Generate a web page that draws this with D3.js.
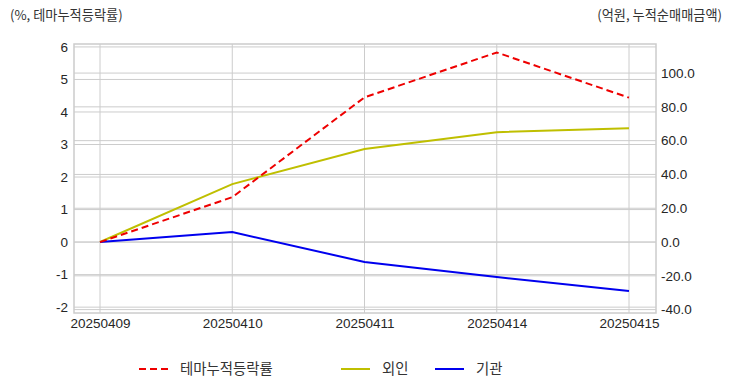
<!DOCTYPE html>
<html>
<head>
<meta charset="utf-8">
<script src="https://cdn.jsdelivr.net/npm/d3@7"></script>
<style>
  body { margin: 0; background: #fff; }
  text { font-family: "Liberation Sans", Arial, sans-serif; }
  .kr { font-family: "Noto Sans CJK KR", sans-serif; }
</style>
</head>
<body>
<svg id="chart" width="732" height="392"></svg>
<script>
// data
const dates = ["20250409", "20250410", "20250411", "20250414", "20250415"];
const theme = [0, 1.38, 4.45, 5.83, 4.44];      // %, left axis
const foreign = [0, 34.3, 55.0, 65.0, 67.3];    // 억원, right axis
const inst = [0, 5.9, -11.8, -20.7, -29.0];     // 억원, right axis
const leftTicks = [-2, -1, 0, 1, 2, 3, 4, 5, 6];
const rightTicks = [-40, -20, 0, 20, 40, 60, 80, 100];

const svg = d3.select("#chart");
const plotLeft = 74, plotRight = 656, plotTop = 44, plotBottom = 313;

const x = d3.scalePoint()
    .domain(dates)
    .range([100, 629]);

const yL = d3.scaleLinear()
    .domain([-2.18, 6.09])
    .range([plotBottom, plotTop]);

const yR = d3.scaleLinear()
    .domain([-42, 117.2])
    .range([plotBottom, plotTop]);

const grid = "#cccccc";

// grid lines
svg.append("g")
    .selectAll("line")
    .data(leftTicks)
    .enter()
    .append("line")
    .attr("x1", plotLeft).attr("x2", plotRight)
    .attr("y1", d => yL(d)).attr("y2", d => yL(d))
    .style("stroke", grid);

svg.append("g")
    .selectAll("line")
    .data(rightTicks)
    .enter()
    .append("line")
    .attr("x1", plotLeft).attr("x2", plotRight)
    .attr("y1", d => yR(d)).attr("y2", d => yR(d))
    .style("stroke", grid);

svg.append("g")
    .selectAll("line")
    .data(dates)
    .enter()
    .append("line")
    .attr("x1", d => x(d)).attr("x2", d => x(d))
    .attr("y1", plotTop).attr("y2", plotBottom)
    .style("stroke", grid);

// frame
svg.append("rect")
    .attr("x", plotLeft).attr("y", plotTop)
    .attr("width", plotRight - plotLeft).attr("height", plotBottom - plotTop)
    .attr("fill", "none")
    .style("stroke", grid)
    .style("stroke-width", 1.5);

// axes (labels only), plain hyphen for negatives
const axL = svg.append("g")
    .attr("transform", `translate(${plotLeft},0)`)
    .call(d3.axisLeft(yL).tickValues(leftTicks).tickSize(0).tickPadding(6)
        .tickFormat(d => String(d)));
const axR = svg.append("g")
    .attr("transform", `translate(${plotRight},0)`)
    .call(d3.axisRight(yR).tickValues(rightTicks).tickSize(0).tickPadding(5)
        .tickFormat(d => d.toFixed(1)));
const axB = svg.append("g")
    .attr("transform", `translate(0,${plotBottom})`)
    .call(d3.axisBottom(x).tickSize(0).tickPadding(5));

[axL, axR, axB].forEach(function (a) {
    a.select(".domain").remove();
    a.selectAll("text")
        .style("font-size", "13.5px")
        .style("font-family", "'Liberation Sans', Arial, sans-serif")
        .attr("fill", "#262626");
});

// lines
const lineL = d3.line().x((d, i) => x(dates[i])).y(d => yL(d));
const lineR = d3.line().x((d, i) => x(dates[i])).y(d => yR(d));

svg.append("path")
    .datum(foreign)
    .attr("d", lineR)
    .attr("fill", "none")
    .style("stroke", "#bfbf00")
    .style("stroke-width", 2);

svg.append("path")
    .datum(inst)
    .attr("d", lineR)
    .attr("fill", "none")
    .style("stroke", "#0000ee")
    .style("stroke-width", 2);

svg.append("path")
    .datum(theme)
    .attr("d", lineL)
    .attr("fill", "none")
    .style("stroke", "#ee0000")
    .style("stroke-width", 2)
    .style("stroke-dasharray", "7,4");

// axis titles
svg.append("text")
    .attr("class", "kr")
    .attr("x", 10).attr("y", 20)
    .style("font-size", "13.2px")
    .attr("fill", "#333")
    .text("(%, 테마누적등락률)");

svg.append("text")
    .attr("class", "kr")
    .attr("x", 722).attr("y", 20)
    .attr("text-anchor", "end")
    .style("font-size", "13.2px")
    .attr("fill", "#333")
    .text("(억원, 누적순매매금액)");

// legend
const legend = [
    { name: "테마누적등락률", color: "#ee0000", dash: "7,4", x: 139 },
    { name: "외인", color: "#bfbf00", dash: null, x: 341 },
    { name: "기관", color: "#0000ee", dash: null, x: 435 }
];

const lg = svg.append("g")
    .selectAll("g")
    .data(legend)
    .enter()
    .append("g")
    .attr("transform", d => `translate(${d.x},369)`);

lg.append("line")
    .attr("x1", 0).attr("x2", 29)
    .style("stroke", d => d.color)
    .style("stroke-width", 2)
    .style("stroke-dasharray", d => d.dash);

lg.append("text")
    .attr("class", "kr")
    .attr("x", 41).attr("y", 5)
    .style("font-size", "14.4px")
    .attr("fill", "#333")
    .text(d => d.name);
</script>
</body>
</html>
